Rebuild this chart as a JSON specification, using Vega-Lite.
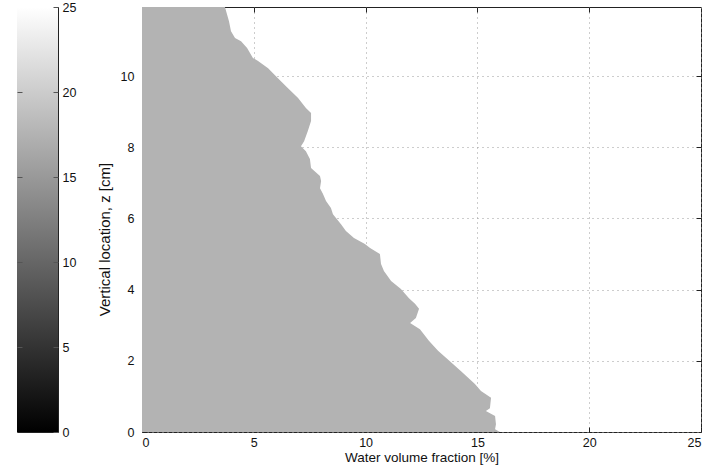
{
  "$schema": "https://vega.github.io/schema/vega-lite/v6.json",
  "background": "white",
  "padding": {"left": 16, "top": 0, "right": 0, "bottom": 0},
  "bounds": "flush",
  "spacing": 84,
  "config": {
    "font": "Liberation Sans",
    "view": {"stroke": "#222222", "strokeWidth": 1},
    "axis": {
      "labelFont": "Liberation Sans",
      "labelFontSize": 12.5,
      "labelColor": "#111111",
      "titleFont": "Liberation Sans",
      "titleFontWeight": "normal",
      "titleColor": "#111111",
      "tickColor": "#222222",
      "tickSize": -5,
      "domain": false
    }
  },
  "hconcat": [
    {
      "width": 41,
      "height": 425,
      "data": {"values": [{"lo": 0, "hi": 25}]},
      "layer": [
        {
          "mark": {
            "type": "rect",
            "color": {
              "gradient": "linear",
              "x1": 0, "y1": 1, "x2": 0, "y2": 0,
              "stops": [
                {"offset": 0, "color": "#000000"},
                {"offset": 1, "color": "#ffffff"}
              ]
            }
          },
          "encoding": {
            "x": {"datum": 0, "type": "quantitative", "scale": {"domain": [0, 1], "nice": false}, "axis": null},
            "x2": {"datum": 1},
            "y": {
              "field": "lo", "type": "quantitative",
              "scale": {"domain": [0, 25], "nice": false},
              "axis": {"orient": "right", "values": [0, 5, 10, 15, 20, 25], "grid": false, "title": null, "labelPadding": 9, "zindex": 1, "tickColor": "#555555"}
            },
            "y2": {"field": "hi"}
          }
        },
        {
          "mark": {"type": "rect", "opacity": 0},
          "encoding": {
            "x": {"datum": 0, "type": "quantitative", "scale": {"domain": [0, 1], "nice": false}, "axis": null},
            "x2": {"datum": 1},
            "y": {
              "field": "lo", "type": "quantitative",
              "scale": {"domain": [0, 25], "nice": false},
              "axis": {"orient": "left", "values": [5, 10, 15, 20], "grid": false, "title": null, "labels": false, "zindex": 1, "tickColor": "#555555"}
            },
            "y2": {"field": "hi"}
          }
        }
      ],
      "resolve": {"axis": {"y": "independent"}}
    },
    {
      "width": 559,
      "height": 425,
      "data": {
        "values": [
          {"z": 0.00, "w": 16.01}, {"z": 0.08, "w": 15.79}, {"z": 0.22, "w": 15.83},
          {"z": 0.45, "w": 15.79}, {"z": 0.59, "w": 15.38}, {"z": 0.67, "w": 15.56},
          {"z": 0.96, "w": 15.61}, {"z": 1.15, "w": 15.16}, {"z": 1.35, "w": 14.89},
          {"z": 1.71, "w": 14.27}, {"z": 1.99, "w": 13.77}, {"z": 2.28, "w": 13.24},
          {"z": 2.56, "w": 12.84}, {"z": 2.89, "w": 12.43}, {"z": 3.06, "w": 11.99},
          {"z": 3.20, "w": 12.25}, {"z": 3.46, "w": 12.39}, {"z": 3.60, "w": 12.21},
          {"z": 3.76, "w": 11.94}, {"z": 4.02, "w": 11.58}, {"z": 4.24, "w": 11.14},
          {"z": 4.52, "w": 10.82}, {"z": 4.72, "w": 10.69}, {"z": 5.00, "w": 10.64},
          {"z": 5.17, "w": 10.20}, {"z": 5.28, "w": 9.97}, {"z": 5.45, "w": 9.48},
          {"z": 5.65, "w": 9.12}, {"z": 5.84, "w": 8.90}, {"z": 6.12, "w": 8.54},
          {"z": 6.29, "w": 8.45}, {"z": 6.49, "w": 8.23}, {"z": 6.69, "w": 8.09},
          {"z": 6.85, "w": 7.96}, {"z": 7.05, "w": 8.01}, {"z": 7.19, "w": 7.96},
          {"z": 7.42, "w": 7.56}, {"z": 7.67, "w": 7.51}, {"z": 7.89, "w": 7.33},
          {"z": 8.03, "w": 7.11}, {"z": 8.17, "w": 7.25}, {"z": 8.46, "w": 7.42},
          {"z": 8.74, "w": 7.56}, {"z": 8.96, "w": 7.56}, {"z": 9.10, "w": 7.33},
          {"z": 9.38, "w": 6.98}, {"z": 9.66, "w": 6.53}, {"z": 9.94, "w": 6.08},
          {"z": 10.22, "w": 5.64}, {"z": 10.42, "w": 5.19}, {"z": 10.51, "w": 4.96},
          {"z": 10.79, "w": 4.70}, {"z": 10.98, "w": 4.43}, {"z": 11.07, "w": 4.16},
          {"z": 11.26, "w": 3.98}, {"z": 11.54, "w": 3.89}, {"z": 11.83, "w": 3.76},
          {"z": 11.94, "w": 3.71}
        ]
      },
      "layer": [
        {
          "mark": {"type": "area", "orient": "horizontal", "color": "#b3b3b3"},
          "encoding": {
            "x": {
              "field": "w", "type": "quantitative",
              "scale": {"domain": [0, 25], "nice": false},
              "axis": {
                "orient": "bottom", "values": [0, 5, 10, 15, 20, 25],
                "title": "Water volume fraction [%]", "titleFontSize": 13.5, "titlePadding": 2,
                "labelPadding": 9, "grid": true, "gridColor": "#9a9a9a", "gridDash": [1, 4], "gridWidth": 1
              }
            },
            "y": {
              "field": "z", "type": "quantitative",
              "scale": {"domain": [0, 11.94], "nice": false},
              "axis": {
                "orient": "left", "values": [0, 2, 4, 6, 8, 10],
                "title": "Vertical location, z [cm]", "titleFontSize": 15, "titlePadding": 8, "titleY": 232,
                "labelPadding": 13, "grid": true, "gridColor": "#9a9a9a", "gridDash": [1, 4], "gridWidth": 1
              }
            }
          }
        },
        {
          "mark": {"type": "area", "orient": "horizontal", "opacity": 0},
          "encoding": {
            "x": {
              "field": "w", "type": "quantitative",
              "scale": {"domain": [0, 25], "nice": false},
              "axis": {"orient": "top", "values": [5, 10, 15, 20], "labels": false, "title": null, "grid": false, "zindex": 1}
            },
            "y": {
              "field": "z", "type": "quantitative",
              "scale": {"domain": [0, 11.94], "nice": false},
              "axis": {"orient": "right", "values": [2, 4, 6, 8, 10], "labels": false, "title": null, "grid": false, "zindex": 1}
            }
          }
        }
      ],
      "resolve": {"axis": {"x": "independent", "y": "independent"}}
    }
  ]
}
